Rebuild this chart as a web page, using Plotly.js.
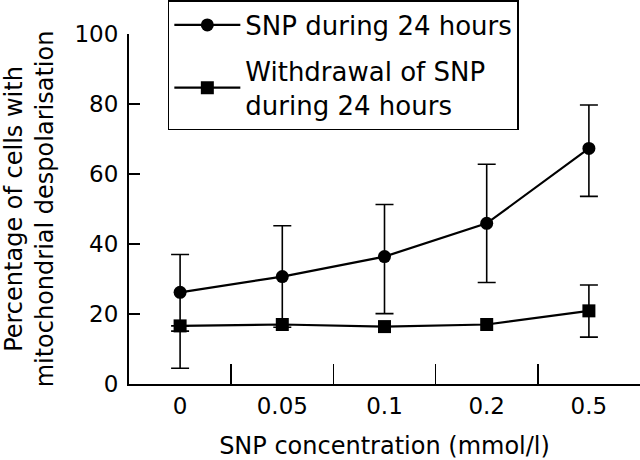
<!DOCTYPE html>
<html>
<head>
<meta charset="utf-8">
<script src="https://cdn.plot.ly/plotly-3.0.1.min.js"></script>
<style>html,body{margin:0;padding:0;background:#fff;}#chart{width:640px;height:460px;}</style>
</head>
<body>
<div id="chart"></div>
<script>
// Data
const categories = ["0", "0.05", "0.1", "0.2", "0.5"];
const snpValues = [26.2, 30.7, 36.4, 45.9, 67.3];
const snpErrPlus = [10.8, 14.5, 14.9, 16.9, 12.4];
const snpErrMinus = [11.1, 14.5, 16.3, 16.9, 13.7];
const withdrawalValues = [16.6, 17.0, 16.4, 17.0, 20.9];
const withdrawalErrPlus = [0, null, null, null, 7.4];
const withdrawalErrMinus = [12.1, null, null, null, 7.5];
const yTickVals = [0, 20, 40, 60, 80, 100];

// Error-bar-only trace for the withdrawal series (points that show bars)
const wIdx = categories.map((c, i) => i).filter(i => withdrawalErrPlus[i] !== null);

const fontFam = "DejaVu Sans, sans-serif";

const traces = [
  {
    x: wIdx.map(i => categories[i]),
    y: wIdx.map(i => withdrawalValues[i]),
    type: "scatter", mode: "markers",
    marker: {size: 1, color: "rgba(0,0,0,0)"},
    error_y: {type: "data", symmetric: false,
      array: wIdx.map(i => withdrawalErrPlus[i]),
      arrayminus: wIdx.map(i => withdrawalErrMinus[i]),
      color: "#000", thickness: 1.6, width: 9},
    showlegend: false, hoverinfo: "skip", legendgroup: "w"
  },
  {
    x: categories, y: snpValues,
    type: "scatter", mode: "lines+markers",
    name: "SNP during 24 hours", legendgroup: "s",
    line: {color: "#000", width: 2.2},
    marker: {symbol: "circle", size: 13, color: "#000"},
    error_y: {type: "data", symmetric: false, array: snpErrPlus, arrayminus: snpErrMinus,
      color: "#000", thickness: 1.6, width: 9}
  },
  {
    x: categories, y: withdrawalValues,
    type: "scatter", mode: "lines+markers",
    name: "Withdrawal of SNP<br>during 24 hours", legendgroup: "w",
    line: {color: "#000", width: 2.2},
    marker: {symbol: "square", size: 13, color: "#000"}
  }
];

const layout = {
  width: 640, height: 460,
  margin: {l: 129, r: 0, t: 34, b: 76, pad: 0},
  paper_bgcolor: "#fff", plot_bgcolor: "#fff",
  font: {family: fontFam, color: "#000", size: 23},
  showlegend: true,
  legend: {
    x: 0.076, xanchor: "left", y: 1.097, yanchor: "top",
    bgcolor: "#fff", bordercolor: "#000", borderwidth: 1.5,
    font: {family: fontFam, size: 26, color: "#000"},
    itemwidth: 66, traceorder: "grouped", tracegroupgap: 9
  },
  xaxis: {
    type: "category", categoryorder: "array", categoryarray: categories,
    range: [-0.5, 4.5],
    showline: true, linecolor: "#000", linewidth: 2,
    ticks: "inside", ticklen: 20, tickwidth: 1.5, tickcolor: "#000",
    tickson: "boundaries", showgrid: false, zeroline: false,
    tickfont: {family: fontFam, size: 23, color: "#000"},
    title: {text: "SNP concentration (mmol/l)", font: {family: fontFam, size: 24, color: "#000"}, standoff: 20}
  },
  yaxis: {
    range: [0, 100], tickvals: yTickVals,
    showline: true, linecolor: "#000", linewidth: 2,
    ticks: "inside", ticklen: 11, tickwidth: 1.5, tickcolor: "#000",
    showgrid: false, zeroline: false,
    ticklabelstandoff: 4,
    tickfont: {family: fontFam, size: 23, color: "#000"},
    title: {text: "Percentage of cells with<br>mitochondrial despolarisation", font: {family: fontFam, size: 24, color: "#000"}, standoff: 14}
  }
};

Plotly.newPlot("chart", traces, layout, {displayModeBar: false, staticPlot: true});
</script>
</body>
</html>
